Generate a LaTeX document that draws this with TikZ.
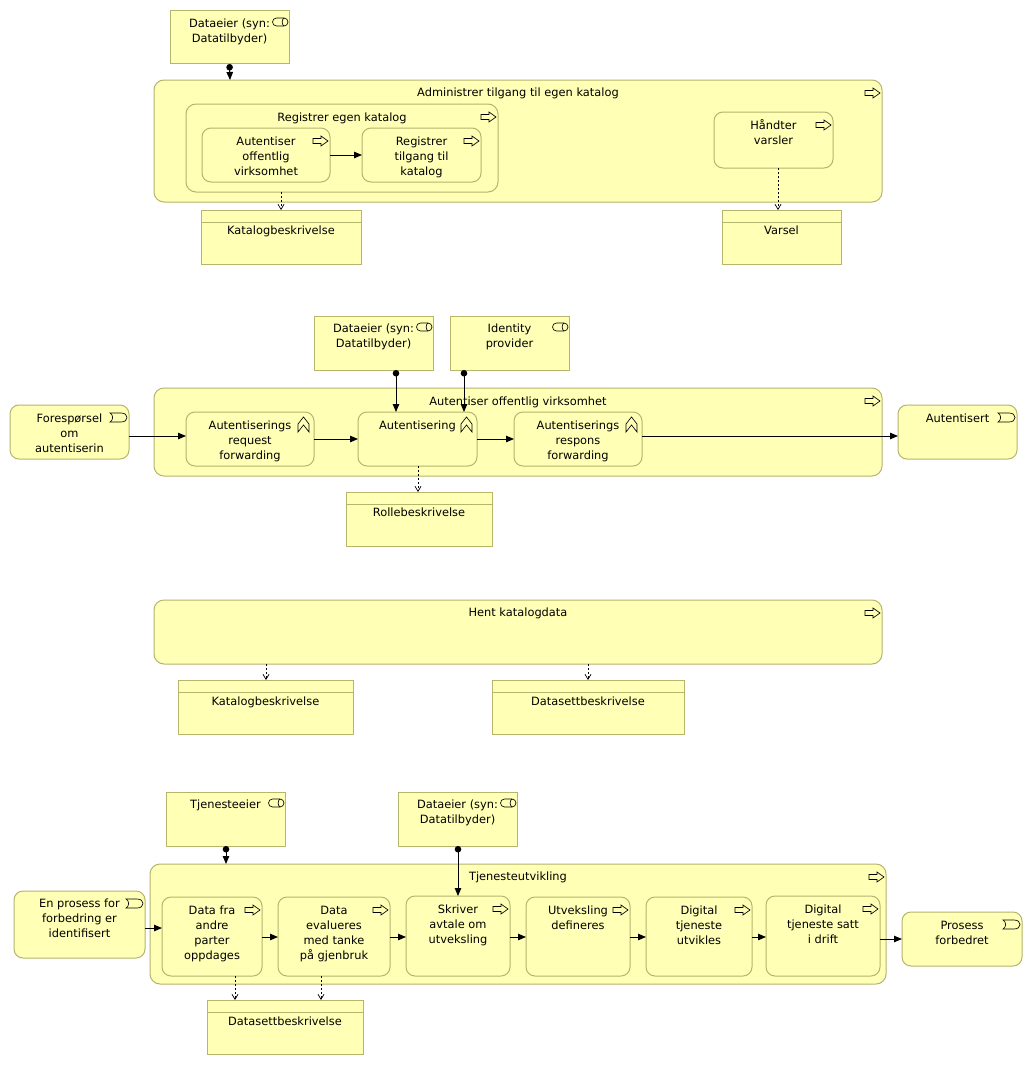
\documentclass[tikz,border=0pt]{standalone}
\usepackage{fontspec}
\setmainfont{DejaVu Sans}
\usetikzlibrary{arrows.meta}
\definecolor{elemfill}{HTML}{FFFFB5}
\definecolor{elemline}{HTML}{B5B56E}
\tikzset{
  x=1pt,y=-1pt,
  elembox/.style={draw=elemline,fill=elemfill,line width=1pt,inner sep=0pt,outer sep=0pt},
  roundbox/.style={elembox,rounded corners=10pt},
  smallround/.style={elembox,rounded corners=9pt},
  elemtext/.style={font=\fontsize{11.4}{15}\selectfont,align=center,inner sep=0pt,outer sep=0pt,anchor=north,text=black},
  flow/.style={-{Triangle[length=8pt,width=6.5pt]},line width=1pt,black},
  assign/.style={{Circle[length=6.5pt]}-{Triangle[length=8pt,width=6.5pt]},line width=1pt,black},
  access/.style={-{Straight Barb[length=5pt,width=6pt]},line width=.7pt,dash pattern=on 2pt off 2pt,black},
  icon/.style={line width=.65pt,black,line join=miter},
}
% name, x1,y1,x2,y2, style, y of first line centre, text
\newcommand{\elem}[8]{%
  \pgfmathsetmacro{\elemw}{#4-#2}\pgfmathsetmacro{\elemh}{#5-#3}%
  \pgfmathsetmacro{\elemx}{(#2+#4)/2}\pgfmathsetmacro{\elemy}{(#3+#5)/2}%
  \node[#6,minimum width=\elemw pt,minimum height=\elemh pt] (#1) at (\elemx,\elemy) {};%
  \pgfmathsetmacro{\elemt}{#7-6.5}%
  \node[elemtext] (#1-t) at (\elemx,\elemt) {\rule{0pt}{11pt}#8};%
}
\newcommand{\dataobj}[8]{%
  \elem{#1}{#2}{#3}{#4}{#5}{elembox}{#7}{#8}%
  \draw[draw=elemline,line width=1pt] ([yshift=-12pt]#1.north west) -- ([yshift=-12pt]#1.north east);%
}
\newcommand{\procicon}[1]{\begin{scope}[shift={(#1.north east)}]
  \draw[icon] (-17,10.5)--(-9,10.5)--(-9,8)--(-2,13)--(-9,18)--(-9,15.5)--(-17,15.5)--cycle;
\end{scope}}
\newcommand{\actoricon}[1]{\begin{scope}[shift={(#1.north east)}]
  \draw[icon,rounded corners=4pt] (-16.5,7)--(-1,7)--(-1,15)--(-16.5,15)--cycle;
  \draw[icon] (-5,7) .. controls (-7.5,8.5) and (-7.5,13.5) .. (-5,15);
\end{scope}}
\newcommand{\eventicon}[1]{\begin{scope}[shift={(#1.north east)}]
  \draw[icon] (-19,8)--(-8,8) .. controls (-4,8) and (-2,10) .. (-2,12.5) .. controls (-2,15) and (-4,17) .. (-8,17)--(-19,17) .. controls (-15.5,15) and (-15.5,10) .. (-19,8)--cycle;
\end{scope}}
\newcommand{\interacticon}[1]{\begin{scope}[shift={(#1.north east)}]
  \draw[icon] (-16,12)--(-10.5,5)--(-5,12)--(-5,20)--(-10.5,13)--(-16,20)--cycle;
\end{scope}}
\begin{document}
\begin{tikzpicture}
\useasboundingbox (0,0) rectangle (1033,1065);
\fill[white] (0,0) rectangle (1033,1065);
% --- group 1
\elem{da}{170}{11}{289}{64}{elembox}{23}{Dataeier (syn:\\Datatilbyder)}
\elem{pa}{154}{80}{882}{202}{roundbox}{92}{Administrer tilgang til egen katalog}
\elem{ra}{186}{104}{498}{192}{roundbox}{117}{Registrer egen katalog}
\elem{aa}{202}{128}{330}{182}{smallround}{141}{Autentiser\\offentlig\\virksomhet}
\elem{rt}{362}{128}{481}{182}{smallround}{141}{Registrer\\tilgang til\\katalog}
\elem{hv}{714}{112}{833}{168}{smallround}{125}{Håndter\\varsler}
\dataobj{ka}{201}{210}{361}{264}{}{230}{Katalogbeskrivelse}
\dataobj{va}{722}{210}{841}{264}{}{230}{Varsel}
\actoricon{da}\procicon{pa}\procicon{ra}\procicon{aa}\procicon{rt}\procicon{hv}
\draw[assign] (da.south |- 230,64) -- (pa.north -| 230,80);
\draw[flow] (aa.east |- 0,155) -- (rt.west |- 0,155);
\draw[access] (ra.south -| 281,0) -- (ka.north -| 281,0);
\draw[access] (hv.south -| 778,0) -- (va.north -| 778,0);
% --- group 2
\elem{db}{314}{316}{433}{370}{elembox}{328}{Dataeier (syn:\\Datatilbyder)}
\elem{ip}{450}{316}{569}{370}{elembox}{328}{Identity\\provider}
\elem{pb}{154}{388}{882}{476}{roundbox}{401}{Autentiser offentlig virksomhet}
\elem{fo}{10}{405}{129}{459}{smallround}{418}{Forespørsel\\om\\autentiserin}
\elem{rq}{186}{412}{314}{466}{smallround}{425}{Autentiserings\\request\\forwarding}
\elem{au}{358}{412}{477}{466}{smallround}{425}{Autentisering}
\elem{rs}{514}{412}{642}{466}{smallround}{425}{Autentiserings\\respons\\forwarding}
\elem{at}{898}{405}{1017}{459}{smallround}{418}{Autentisert}
\dataobj{ro}{346}{492}{492}{546}{}{512}{Rollebeskrivelse}
\actoricon{db}\actoricon{ip}\procicon{pb}\eventicon{fo}\interacticon{rq}\interacticon{au}\interacticon{rs}\eventicon{at}
\draw[assign] (db.south -| 396,0) -- (au.north -| 396,0);
\draw[assign] (ip.south -| 464,0) -- (au.north -| 464,0);
\draw[flow] (fo.east |- 0,436) -- (rq.west |- 0,436);
\draw[flow] (rq.east |- 0,439) -- (au.west |- 0,439);
\draw[flow] (au.east |- 0,439) -- (rs.west |- 0,439);
\draw[flow] (rs.east |- 0,436) -- (at.west |- 0,436);
\draw[access] (au.south -| 418,0) -- (ro.north -| 418,0);
% --- group 3
\elem{pc}{154}{600}{882}{664}{roundbox}{612}{Hent katalogdata}
\dataobj{kc}{178}{680}{353}{734}{}{701}{Katalogbeskrivelse}
\dataobj{dc}{492}{680}{684}{734}{}{701}{Datasettbeskrivelse}
\procicon{pc}
\draw[access] (pc.south -| 266,0) -- (kc.north -| 266,0);
\draw[access] (pc.south -| 588,0) -- (dc.north -| 588,0);
% --- group 4
\elem{te}{166}{792}{285}{846}{elembox}{804}{Tjenesteeier}
\elem{dd}{398}{792}{517}{846}{elembox}{804}{Dataeier (syn:\\Datatilbyder)}
\elem{pd}{150}{864}{886}{984}{roundbox}{876}{Tjenesteutvikling}
\elem{ep}{14}{891}{145}{958}{smallround}{903}{En prosess for\\forbedring er\\identifisert}
\elem{s1}{162}{897}{262}{976}{smallround}{910}{Data fra\\andre\\parter\\oppdages}
\elem{s2}{278}{897}{390}{976}{smallround}{910}{Data\\evalueres\\med tanke\\på gjenbruk}
\elem{s3}{406}{896}{510}{976}{smallround}{909}{Skriver\\avtale om\\utveksling}
\elem{s4}{526}{897}{630}{976}{smallround}{910}{Utveksling\\defineres}
\elem{s5}{646}{897}{752}{976}{smallround}{910}{Digital\\tjeneste\\utvikles}
\elem{s6}{766}{896}{880}{976}{smallround}{909}{Digital\\tjeneste satt\\i drift}
\elem{pf}{902}{912}{1022}{966}{smallround}{925}{Prosess\\forbedret}
\dataobj{dd2}{207}{1000}{363}{1054}{}{1021}{Datasettbeskrivelse}
\actoricon{te}\actoricon{dd}\procicon{pd}\eventicon{ep}\procicon{s1}\procicon{s2}\procicon{s3}\procicon{s4}\procicon{s5}\procicon{s6}\eventicon{pf}
\draw[assign] (te.south -| 226,0) -- (pd.north -| 226,0);
\draw[assign] (dd.south -| 458,0) -- (s3.north -| 458,0);
\draw[flow] (ep.east |- 0,928) -- (s1.west |- 0,928);
\draw[flow] (s1.east |- 0,937) -- (s2.west |- 0,937);
\draw[flow] (s2.east |- 0,937) -- (s3.west |- 0,937);
\draw[flow] (s3.east |- 0,937) -- (s4.west |- 0,937);
\draw[flow] (s4.east |- 0,937) -- (s5.west |- 0,937);
\draw[flow] (s5.east |- 0,937) -- (s6.west |- 0,937);
\draw[flow] (s6.east |- 0,939) -- (pf.west |- 0,939);
\draw[access] (s1.south -| 235,0) -- (dd2.north -| 235,0);
\draw[access] (s2.south -| 321,0) -- (dd2.north -| 321,0);
\end{tikzpicture}
\end{document}
